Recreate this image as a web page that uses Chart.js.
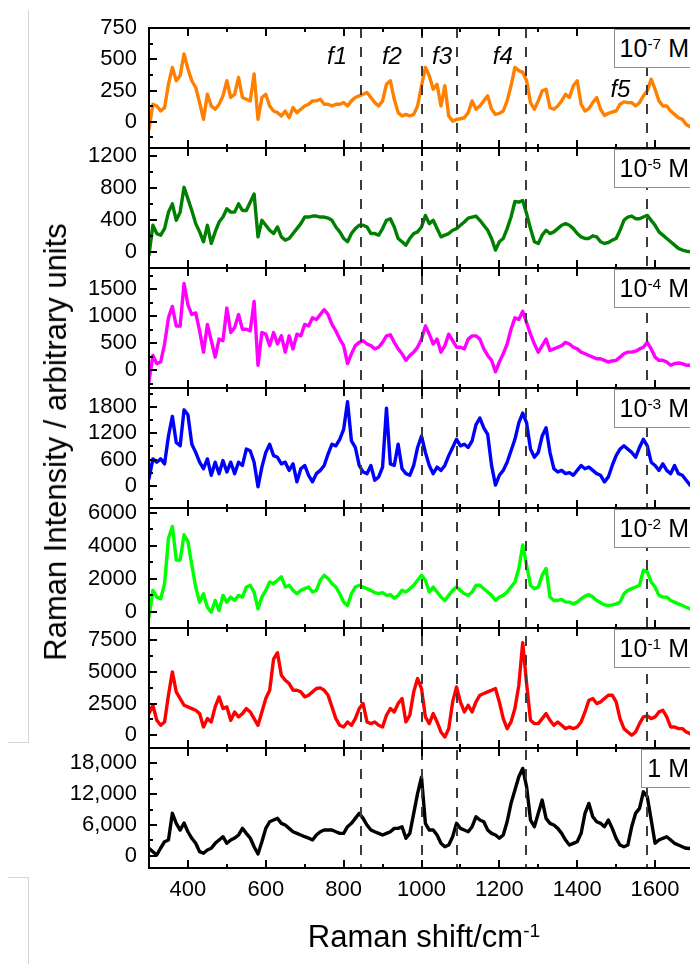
<!DOCTYPE html>
<html>
<head>
<meta charset="utf-8">
<title>Raman spectra vs concentration</title>
<script src="https://cdn.jsdelivr.net/npm/chart.js@4.4.1/dist/chart.umd.min.js"></script>
<style>
  html, body { margin: 0; padding: 0; background: #fff; overflow: hidden; }
  #wrap { position: relative; width: 690px; height: 964px; overflow: hidden;
          font-family: "Liberation Sans", Arial, sans-serif; color: #000; }
  #chart { position: absolute; left: 0; top: 0; }
  sup { font-size: 0.62em; position: relative; top: -0.5em; vertical-align: baseline; line-height: 0; }
  .tag { position: absolute; right: -6px; height: 37px; line-height: 37px; font-size: 25px;
         padding: 0 6px 0 5px; background: #fff; border: 1.5px solid #8f8f8f; white-space: nowrap; }
  .peak { position: absolute; font-size: 24px; font-style: italic; transform: translate(-50%, -50%); white-space: nowrap; }
  .title { position: absolute; font-size: 31px; white-space: nowrap; }
  .edge { position: absolute; background: #d4d4d4; }
</style>
</head>
<body>
<div id="wrap">
  <div class="edge" style="left:28px;top:10px;width:1px;height:732px"></div>
  <div class="edge" style="left:8px;top:742px;width:21px;height:1px"></div>
  <div class="edge" style="left:8px;top:877px;width:21px;height:1px"></div>
  <div class="edge" style="left:28px;top:877px;width:1px;height:87px"></div>
  <canvas id="chart" width="700" height="964"></canvas>
  <div class="title" style="left:56px;top:442px;transform:translate(-50%,-50%) rotate(-90deg)">Raman Intensity / arbitrary units</div>
  <div class="title" style="left:424px;top:937px;transform:translate(-50%,-50%)">Raman shift/cm<sup>-1</sup></div>
</div>
<script>
// Raman shift sampling (cm-1)
const SHIFT = [
  300,310,320,330,340,350,360,370,380,390,
  400,410,420,430,440,450,460,470,480,490,
  500,510,520,530,540,550,560,570,580,590,
  600,610,620,630,640,650,660,670,680,690,
  700,710,720,730,740,750,760,770,780,790,
  800,810,820,830,840,850,860,870,880,890,
  900,910,920,930,940,950,960,970,980,990,
  1000,1010,1020,1030,1040,1050,1060,1070,1080,1090,
  1100,1110,1120,1130,1140,1150,1160,1170,1180,1190,
  1200,1210,1220,1230,1240,1250,1260,1270,1280,1290,
  1300,1310,1320,1330,1340,1350,1360,1370,1380,1390,
  1400,1410,1420,1430,1440,1450,1460,1470,1480,1490,
  1500,1510,1520,1530,1540,1550,1560,1570,1580,1590,
  1600,1610,1620,1630,1640,1650,1660,1670,1680,1690,
  1700
];

const C_1E7 = [
  -60,140,126,86,113,300,435,328,368,543,
  422,328,274,153,19,220,126,100,140,207,
  328,194,220,355,194,180,167,382,19,194,
  220,126,86,73,46,86,32,113,73,100,
  126,140,167,167,180,140,140,126,140,140,
  153,126,167,194,207,220,234,194,153,126,
  167,300,328,180,73,46,59,46,59,126,
  288,435,368,260,300,126,288,46,5,19,
  24,32,73,167,100,126,167,207,100,59,
  67,86,167,288,435,409,395,328,153,100,
  167,247,260,113,100,126,167,220,194,288,
  328,140,86,105,153,194,100,51,67,78,
  86,140,159,153,153,126,153,207,247,341,
  260,167,126,126,86,59,32,19,-22,-40,
  -60
];
const C_1E5 = [
  -33,337,234,214,296,501,604,399,501,810,
  666,522,358,255,132,337,111,255,378,440,
  543,501,501,604,522,522,625,727,193,399,
  337,275,234,316,193,152,173,234,296,358,
  440,440,452,452,440,440,427,399,316,255,
  173,132,234,296,337,337,316,234,234,214,
  296,399,419,316,173,132,90,173,234,255,
  316,460,358,399,296,193,214,234,275,296,
  337,378,427,440,452,399,337,275,173,29,
  132,173,296,440,633,625,645,481,296,132,
  111,214,275,234,255,296,337,358,337,296,
  234,193,173,173,206,193,132,111,123,152,
  173,275,399,440,452,419,419,440,460,399,
  337,255,214,173,132,90,49,29,16,8,
  0
];
const C_1E4 = [
  -212,272,121,151,484,968,1180,817,817,1603,
  1210,1029,1059,726,333,847,545,242,575,545,
  1150,696,787,1029,756,756,726,1271,91,696,
  666,454,696,484,635,333,635,393,666,635,
  847,817,968,938,1029,1119,1029,847,726,575,
  454,121,303,454,514,545,484,454,393,424,
  514,635,654,514,393,303,182,272,333,424,
  575,817,666,484,575,333,454,666,545,424,
  424,393,575,635,635,575,393,272,182,-30,
  151,303,484,756,968,938,1089,877,666,484,
  333,454,575,363,393,424,454,514,484,424,
  393,333,303,272,242,212,212,182,151,170,
  182,242,303,333,333,351,393,424,514,393,
  242,182,182,151,91,121,133,121,91,91,
  91
];
const C_1E3 = [
  165,615,540,615,502,1140,1590,990,915,1740,
  1627,952,765,540,390,615,240,540,277,577,
  315,540,277,540,465,840,802,540,-22,427,
  765,952,690,652,502,540,352,502,90,390,
  465,240,90,277,352,465,727,952,915,1065,
  1290,1927,1027,877,465,315,277,465,127,202,
  427,1777,502,465,952,390,277,240,465,877,
  1140,765,465,277,427,352,465,690,877,1065,
  915,952,877,1027,1402,1552,1327,1177,465,15,
  240,352,540,802,1065,1440,1665,1440,840,652,
  765,1140,1327,765,390,315,352,277,300,240,
  352,465,390,427,352,277,240,90,202,465,
  690,840,915,840,765,652,877,1065,915,540,
  465,352,502,352,277,465,277,240,127,15,
  -22
];
const C_1E2 = [
  -348,1290,881,778,1700,4465,5180,3133,3133,4670,
  4260,2826,1495,573,1085,266,-41,676,61,983,
  573,881,676,983,881,1495,1597,1188,164,881,
  1290,1802,1700,1905,2109,1495,1597,1290,1085,1290,
  1393,1495,1188,1290,1905,2212,2007,1700,1495,1085,
  573,369,1085,1495,1597,1495,1393,1290,1147,1085,
  1147,983,1024,819,983,1290,1188,1393,1597,1905,
  2212,1905,1188,1495,1188,881,676,983,1290,1495,
  1290,1085,983,1188,1597,1597,1393,1188,983,676,
  881,983,1188,1495,1802,2621,4055,2826,1597,1393,
  1495,2212,2621,881,676,676,737,573,573,471,
  573,778,942,1024,881,676,532,410,369,410,
  471,573,1085,1290,1393,1495,1597,2519,2417,1802,
  1495,983,881,881,676,573,471,369,266,164,
  123
];
const C_1E1 = [
  1710,2367,1184,789,1052,3156,4997,3419,2893,2367,
  2236,2104,1973,1710,658,1315,1052,2236,3025,2104,
  2236,1184,1841,1447,1710,2104,1841,1315,789,1841,
  2893,3551,6000,6500,4734,4340,4077,3551,3551,3419,
  3025,3156,3419,3682,3735,3551,3156,2236,1315,789,
  658,1052,789,1315,2104,2499,1052,921,1052,789,
  658,1578,2104,1841,2499,2893,1052,1578,3419,4471,
  3682,1447,921,1710,1052,263,-132,526,2630,3814,
  2630,1841,2367,1841,2630,3156,3288,3419,3551,3682,
  2630,1315,526,1052,2104,3945,7300,4077,1184,921,
  921,1315,1710,1184,789,1052,789,526,658,526,
  658,1052,1841,2762,2893,2499,2630,2893,3156,3156,
  2630,1315,526,263,0,263,921,1447,1525,1315,
  1447,1841,1973,1447,658,658,526,526,263,131,
  52
];
const C_1 = [
  1440,780,136,1500,2730,3060,8260,6310,5000,6370,
  4670,3390,2410,780,470,1110,1440,2410,3060,3700,
  2410,3060,3440,4030,5330,4360,3440,1750,330,2730,
  5330,6620,6950,7280,6310,5980,5330,4670,4360,4030,
  3700,3440,3060,4030,4670,5000,5000,5000,4670,4360,
  4360,5650,6310,7280,8260,7280,5980,5000,4670,4360,
  4030,4360,4670,5330,5330,5650,3390,4360,8260,12150,
  15300,6310,5000,5000,4030,2410,1750,2080,3700,6310,
  5330,5000,4670,5650,7590,6950,6620,5000,4360,4030,
  3390,4030,6620,10200,12790,15380,17020,13430,6950,5650,
  8260,10840,7280,6310,5980,5330,4360,3060,2080,2410,
  2730,4360,8260,10200,7590,6620,6310,5650,6950,5330,
  3390,2080,1750,2080,5650,8260,9230,12460,11490,7000,
  2410,3060,3390,3700,3060,2410,2080,1750,1440,1400,
  1300
];

const SERIES = [C_1E7, C_1E5, C_1E4, C_1E3, C_1E2, C_1E1, C_1];
const CONC_BASE = ['10', '10', '10', '10', '10', '10', '1'];
const CONC_EXP = ['-7', '-5', '-4', '-3', '-2', '-1', ''];
const COLORS = ['#ff8000', '#008000', '#ff00ff', '#0000ff', '#00ff00', '#ff0000', '#000000'];

const Y_MIN = [-210, -195, -330, -510, -1000, -1000, -2400];
const Y_MAX = [750, 1300, 1890, 2240, 6300, 8450, 21000];
const Y_TICKS = [
  [0, 250, 500, 750],
  [0, 400, 800, 1200],
  [0, 500, 1000, 1500],
  [0, 600, 1200, 1800],
  [0, 2000, 4000, 6000],
  [0, 2500, 5000, 7500],
  [0, 6000, 12000, 18000]
];
const Y_MINOR = [125, 200, 250, 300, 1000, 1250, 3000];

const X_TICKS = [400, 600, 800, 1000, 1200, 1400, 1600];
const X_MINOR = [500, 700, 900, 1100, 1300, 1500];

const PEAK_SHIFTS = [845, 1000, 1090, 1268, 1580];
const PEAK_NAMES = ['f1', 'f2', 'f3', 'f4', 'f5'];
const PEAK_NAME_AT = [783, 924, 1053, 1209, 1511];
const PEAK_NAME_TOP = [56, 56, 56, 56, 89];

const FONT = 'Liberation Sans, Arial, sans-serif';

const scales = {
  x: {
    type: 'linear',
    position: 'bottom',
    min: 300,
    max: 1700,
    afterBuildTicks: s => { s.ticks = X_TICKS.map(v => ({ value: v })); },
    afterFit: s => { s.height = 96; },
    grid: { display: false, drawTicks: false },
    border: { display: false },
    ticks: {
      color: '#000',
      font: { family: FONT, size: 22 },
      padding: 9,
      maxRotation: 0,
      autoSkip: false,
      callback: v => String(v)
    }
  }
};

SERIES.forEach((_, i) => {
  scales['y' + i] = {
    type: 'linear',
    position: 'left',
    stack: 'panels',
    stackWeight: 1,
    weight: 10 - i,
    min: Y_MIN[i],
    max: Y_MAX[i],
    afterBuildTicks: s => { s.ticks = Y_TICKS[i].map(v => ({ value: v })); },
    afterFit: s => { s.width = 149; },
    grid: { display: false, drawTicks: false },
    border: { display: false },
    ticks: {
      color: '#000',
      font: { family: FONT, size: 22 },
      padding: 12,
      autoSkip: false,
      callback: v => i === 6 ? v.toLocaleString('en-US') : String(v)
    }
  };
});

// frame, inward ticks and dashed peak markers
const framePlugin = {
  id: 'frame',
  afterDatasetsDraw(chart) {
    const { ctx, chartArea: a, scales: sc } = chart;
    const x = sc.x;
    ctx.save();

    ctx.strokeStyle = '#3c3c3c';
    ctx.lineWidth = 2;
    ctx.setLineDash([10, 9]);
    PEAK_SHIFTS.forEach(v => {
      const px = Math.round(x.getPixelForValue(v));
      ctx.beginPath();
      ctx.moveTo(px, a.top);
      ctx.lineTo(px, a.bottom);
      ctx.stroke();
    });
    ctx.setLineDash([]);

    ctx.strokeStyle = '#000';
    ctx.lineWidth = 2;
    ctx.beginPath();
    ctx.moveTo(a.left, a.top);
    ctx.lineTo(a.left, a.bottom);
    ctx.moveTo(a.right, a.top);
    ctx.lineTo(a.right, a.bottom);
    ctx.stroke();

    SERIES.forEach((_, i) => {
      const y = sc['y' + i];
      ctx.beginPath();
      ctx.moveTo(a.left - 1, y.top);
      ctx.lineTo(a.right, y.top);
      ctx.moveTo(a.left - 1, y.bottom);
      ctx.lineTo(a.right, y.bottom);

      const xt = (v, len) => {
        const px = Math.round(x.getPixelForValue(v));
        ctx.moveTo(px, y.top);
        ctx.lineTo(px, y.top + len);
        ctx.moveTo(px, y.bottom);
        ctx.lineTo(px, y.bottom - len);
      };
      X_TICKS.forEach(v => xt(v, 8));
      X_MINOR.forEach(v => xt(v, 4));

      const yt = (v, len) => {
        const py = Math.round(y.getPixelForValue(v));
        ctx.moveTo(a.left, py);
        ctx.lineTo(a.left + len, py);
      };
      Y_TICKS[i].forEach(v => yt(v, 8));
      const step = Y_MINOR[i];
      for (let v = Math.ceil(Y_MIN[i] / step) * step; v < Y_MAX[i]; v += step) {
        if (v > Y_MIN[i] && !Y_TICKS[i].includes(v)) yt(v, 4);
      }
      ctx.stroke();
    });
    ctx.restore();
  }
};

const chart = new Chart(document.getElementById('chart'), {
  type: 'line',
  data: {
    datasets: SERIES.map((vals, i) => ({
      label: CONC_BASE[i] + CONC_EXP[i] + ' M',
      data: SHIFT.map((s, k) => ({ x: s, y: vals[k] })),
      yAxisID: 'y' + i,
      borderColor: COLORS[i],
      borderWidth: 3.4,
      pointRadius: 0,
      tension: 0,
      borderJoinStyle: 'round',
      borderCapStyle: 'round'
    }))
  },
  options: {
    responsive: false,
    animation: false,
    events: [],
    layout: { padding: { top: 28, left: 0, right: 6, bottom: 0 } },
    plugins: { legend: { display: false }, tooltip: { enabled: false } },
    scales
  },
  plugins: [framePlugin]
});

// concentration tags and peak names as page text
const wrap = document.getElementById('wrap');
SERIES.forEach((_, i) => {
  const d = document.createElement('div');
  d.className = 'tag';
  d.style.top = (chart.scales['y' + i].top + 1) + 'px';
  d.innerHTML = CONC_BASE[i] + (CONC_EXP[i] ? '<sup>' + CONC_EXP[i] + '</sup>' : '') + ' M';
  wrap.appendChild(d);
});
PEAK_NAMES.forEach((n, i) => {
  const d = document.createElement('div');
  d.className = 'peak';
  d.style.left = chart.scales.x.getPixelForValue(PEAK_NAME_AT[i]) + 'px';
  d.style.top = PEAK_NAME_TOP[i] + 'px';
  d.textContent = n;
  wrap.appendChild(d);
});
</script>
</body>
</html>
